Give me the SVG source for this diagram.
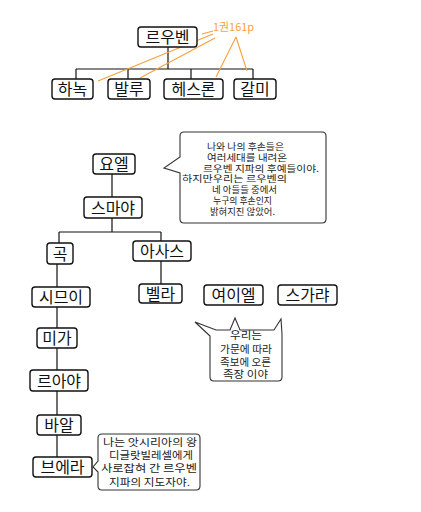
<svg xmlns="http://www.w3.org/2000/svg" width="421" height="512" viewBox="0 0 421 512">
<style>
.b{fill:#fff;stroke:#111;stroke-width:1.4}
.t{font-family:"Noto Sans CJK KR","Noto Sans",sans-serif;font-size:16px;fill:#111;text-anchor:middle}
.c{stroke:#111;stroke-width:1.2;fill:none}
.o{stroke:#f7a13b;stroke-width:1.1;fill:none}
.bub{fill:#fff;stroke:#333;stroke-width:1.1}
.s{font-family:"Noto Sans CJK KR","Noto Sans",sans-serif;font-size:10px;fill:#222;text-anchor:middle}
.s9{font-size:9px}
</style>
<rect width="421" height="512" fill="#fff"/>
<g id="connectors">
<path class="c" d="M168,47V69M76,69H253M76,69V79M128,69V79M191,69V79M253,69V79"/>
<path class="c" d="M112,174V197M112,218V232M59,232H161M59,232V243M161,232V241M57,264V287M161,261V284M57,307V328M57,348V370M57,391V415M57,435V457"/>
</g>
<g id="annotation">
<path class="o" d="M202,34L213,31M213,34L98,81M215,38L140,78M236,37L216,77M236,37L247,71"/>
<text x="213" y="31" font-family="Noto Sans CJK KR,Noto Sans,sans-serif" font-size="11" fill="#f7a13b" textLength="41" lengthAdjust="spacingAndGlyphs">1권161p</text>
</g>
<g id="n-reuben"><rect class="b" x="138" y="27" width="59" height="20" rx="3"/><text class="t" x="167.5" y="43">르우벤</text></g>
<g id="n-hanok"><rect class="b" x="52" y="79" width="41" height="20" rx="3"/><text class="t" x="72.5" y="95">하녹</text></g>
<g id="n-pallu"><rect class="b" x="108" y="79" width="42" height="20" rx="3"/><text class="t" x="129" y="95">발루</text></g>
<g id="n-hezron"><rect class="b" x="164" y="79" width="59" height="20" rx="3"/><text class="t" x="193.5" y="95">헤스론</text></g>
<g id="n-carmi"><rect class="b" x="234" y="79" width="42" height="20" rx="3"/><text class="t" x="255" y="95">갈미</text></g>
<g id="n-joel"><rect class="b" x="93" y="154" width="42" height="20" rx="3"/><text class="t" x="114" y="170">요엘</text></g>
<g id="n-shemaiah"><rect class="b" x="84" y="197" width="58" height="21" rx="3"/><text class="t" x="113" y="213.5">스마야</text></g>
<g id="n-gog"><rect class="b" x="47" y="243" width="26" height="21" rx="3"/><text class="t" x="60" y="259.5">곡</text></g>
<g id="n-azaz"><rect class="b" x="133" y="241" width="58" height="20" rx="3"/><text class="t" x="162" y="257">아사스</text></g>
<g id="n-shimei"><rect class="b" x="32" y="287" width="58" height="20" rx="3"/><text class="t" x="61" y="303">시므이</text></g>
<g id="n-bela"><rect class="b" x="139" y="284" width="43" height="19" rx="3"/><text class="t" x="160.5" y="299.5">벨라</text></g>
<g id="n-jeiel"><rect class="b" x="204" y="285" width="59" height="20" rx="3"/><text class="t" x="233.5" y="301">여이엘</text></g>
<g id="n-zechariah"><rect class="b" x="278" y="285" width="59" height="20" rx="3"/><text class="t" x="307.5" y="301">스가랴</text></g>
<g id="n-micah"><rect class="b" x="37" y="328" width="40" height="20" rx="3"/><text class="t" x="57" y="344">미가</text></g>
<g id="n-reaiah"><rect class="b" x="30" y="370" width="58" height="21" rx="3"/><text class="t" x="59" y="386.5">르아야</text></g>
<g id="n-baal"><rect class="b" x="37" y="415" width="44" height="20" rx="3"/><text class="t" x="59" y="431">바알</text></g>
<g id="n-beerah"><rect class="b" x="33" y="457" width="59" height="20" rx="3"/><text class="t" x="62.5" y="473">브에라</text></g>
<g id="bubble1">
<path class="bub" d="M184,132L322,132Q326,132 326,136L326,219Q326,223 322,223L184,223Q180,223 180,219L180,173L164,168L180,157L180,136Q180,132 184,132Z"/>
<text class="s s9"><tspan x="245.5" y="149.5" textLength="77" lengthAdjust="spacingAndGlyphs">나와 나의 후손들은</tspan><tspan x="247" y="160.5" textLength="80" lengthAdjust="spacingAndGlyphs">여러세대를 내려온</tspan><tspan x="261" y="171.5" textLength="116" lengthAdjust="spacingAndGlyphs">르우벤 지파의 후예들이야.</tspan><tspan x="234.5" y="182" textLength="105" lengthAdjust="spacingAndGlyphs">하지만우리는 르우벤의</tspan><tspan x="244.5" y="192.5" textLength="65" lengthAdjust="spacingAndGlyphs">네 아들들 중에서</tspan><tspan x="242.5" y="203.5" textLength="59" lengthAdjust="spacingAndGlyphs">누구의 후손인지</tspan><tspan x="242.5" y="214.5" textLength="65" lengthAdjust="spacingAndGlyphs">밝혀지진 않았어.</tspan></text>
</g>
<g id="bubble2">
<path class="bub" d="M210,336L195,322L216,330L230,330L235,318L240,330L274,330L281,319L282,334L282,377Q282,381 278,381L214,381Q210,381 210,377Z"/>
<text class="s"><tspan x="246" y="339" textLength="32" lengthAdjust="spacingAndGlyphs">우리는</tspan><tspan x="246" y="353" textLength="52" lengthAdjust="spacingAndGlyphs">가문에 따라</tspan><tspan x="245.5" y="365.5" textLength="51" lengthAdjust="spacingAndGlyphs">족보에 오른</tspan><tspan x="245.5" y="378" textLength="45" lengthAdjust="spacingAndGlyphs">족장 이야</tspan></text>
</g>
<g id="bubble3">
<path class="bub" d="M102,434L196,434Q200,434 200,438L200,486Q200,490 196,490L102,490Q98,490 98,486L98,472L93,467L98,461L98,438Q98,434 102,434Z"/>
<text class="s"><tspan x="150" y="446" textLength="94" lengthAdjust="spacingAndGlyphs">나는 앗시리아의 왕</tspan><tspan x="151" y="459" textLength="84" lengthAdjust="spacingAndGlyphs">디글랏빌레셀에게</tspan><tspan x="149" y="472" textLength="96" lengthAdjust="spacingAndGlyphs">사로잡혀 간 르우벤</tspan><tspan x="149.5" y="486" textLength="81" lengthAdjust="spacingAndGlyphs">지파의 지도자야.</tspan></text>
</g>
</svg>
